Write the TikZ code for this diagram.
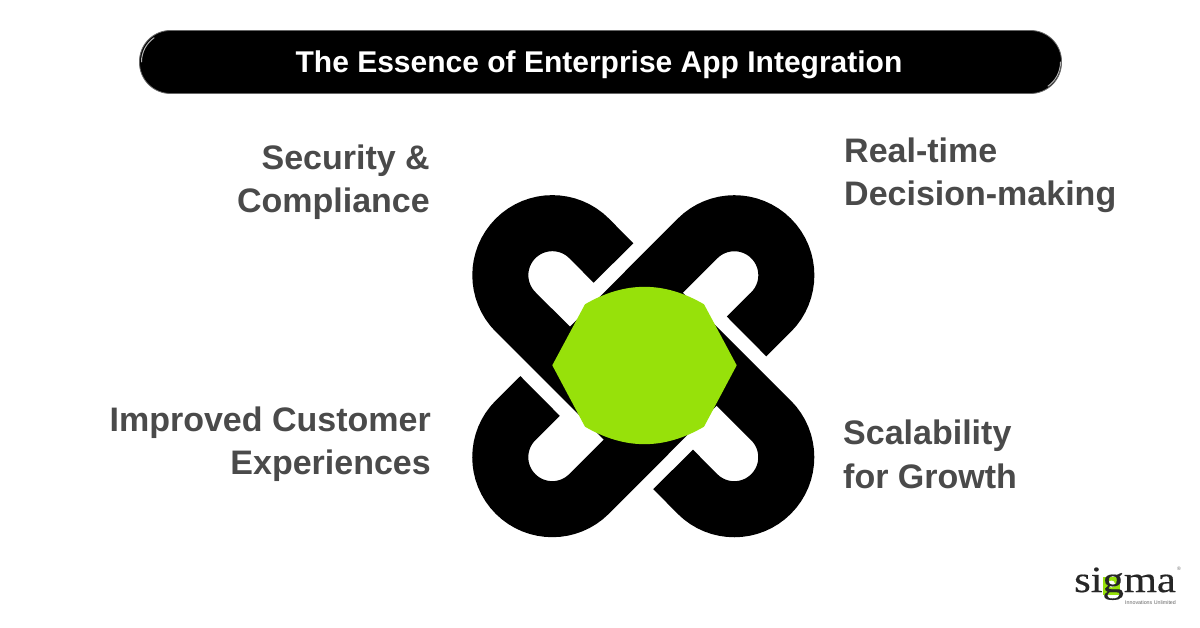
\documentclass[tikz,border=0pt]{standalone}
\usepackage{fontspec}
\setmainfont{Liberation Sans}
\newfontfamily\logofont[FakeStretch=1.15,FakeBold=0.4]{Liberation Serif}
\definecolor{limegreen}{HTML}{97E10A}
\definecolor{labelgray}{HTML}{4A4A4A}
\tikzset{
    label text/.style={font=\fontsize{34}{43.5}\selectfont\bfseries,text=labelgray,inner sep=0pt,align=#1},
    hook/.style={draw=black,line width=56pt},
    gloss/.style={draw=white!70!black,line width=1pt,line cap=round}
}
\begin{document}
\begin{tikzpicture}[x=1pt,y=1pt]
        \useasboundingbox (0,0) rectangle (1200,627);
        \fill[white] (0,0) rectangle (1200,627);
        %% Title bar
        \node[draw=black!60,line width=0.8pt,fill=black,rounded corners=31pt,minimum width=922pt,minimum height=63pt,inner sep=0pt] (bar) at (600.5,565) {};
        \node[font=\fontsize{30}{36}\selectfont\bfseries,text=white,inner sep=0pt,anchor=base] (title) at (599,554.5) {The Essence of Enterprise App Integration};
        \draw[gloss] (141.5,565) arc (180:125:29.5pt);
        \draw[gloss] (1060.5,565) arc (0:-55:29.5pt);
        %% Hooks
        \foreach \a in {0,-90,180,90} {
            \begin{scope}[shift={(643.3,260.8)},rotate=\a]
                \draw[hook] (-29.8,103.2) -- (-54.2,127.8) arc (45:225:52pt) -- (1.7,-75);
            \end{scope}
        }
        %% Hub
        \fill[limegreen] (552.3,261.7) -- (585,322.7)
            .. controls (625,346) and (664,346) .. (704,322.7)
            -- (736.7,261.7) -- (704,200.3)
            .. controls (664,177) and (625,177) .. (585,200.3) -- cycle;
        %% Labels
        \node[label text=right,anchor=north east] (security) at (430,482.5) {Security \&\\Compliance};
        \node[label text=left,anchor=north west] (realtime) at (844,489.5) {Real-time\\Decision-making};
        \node[label text=right,anchor=north east] (customer) at (431,220.5) {Improved Customer\\Experiences};
        \node[label text=left,anchor=north west] (scalability) at (843,207) {Scalability\\for Growth};
        %% Logo
        \fill[limegreen] (1103,32) rectangle (1120,50);
        \fill[white] (1111.5,43) circle (3.5pt);
        \node[font=\logofont\fontsize{37}{37}\selectfont,text=black!85,anchor=base west,inner sep=0pt] (sigma) at (1074,35) {sigma};
        \node[font=\fontsize{5.3}{6}\selectfont,text=black!60,anchor=west,inner sep=0pt] (tagline) at (1125,24) {Innovations Unlimited};
        \node[font=\fontsize{5}{5}\selectfont,text=black!60,inner sep=0pt] (mark) at (1179,58) {\textregistered};
    \end{tikzpicture}
\end{document}
